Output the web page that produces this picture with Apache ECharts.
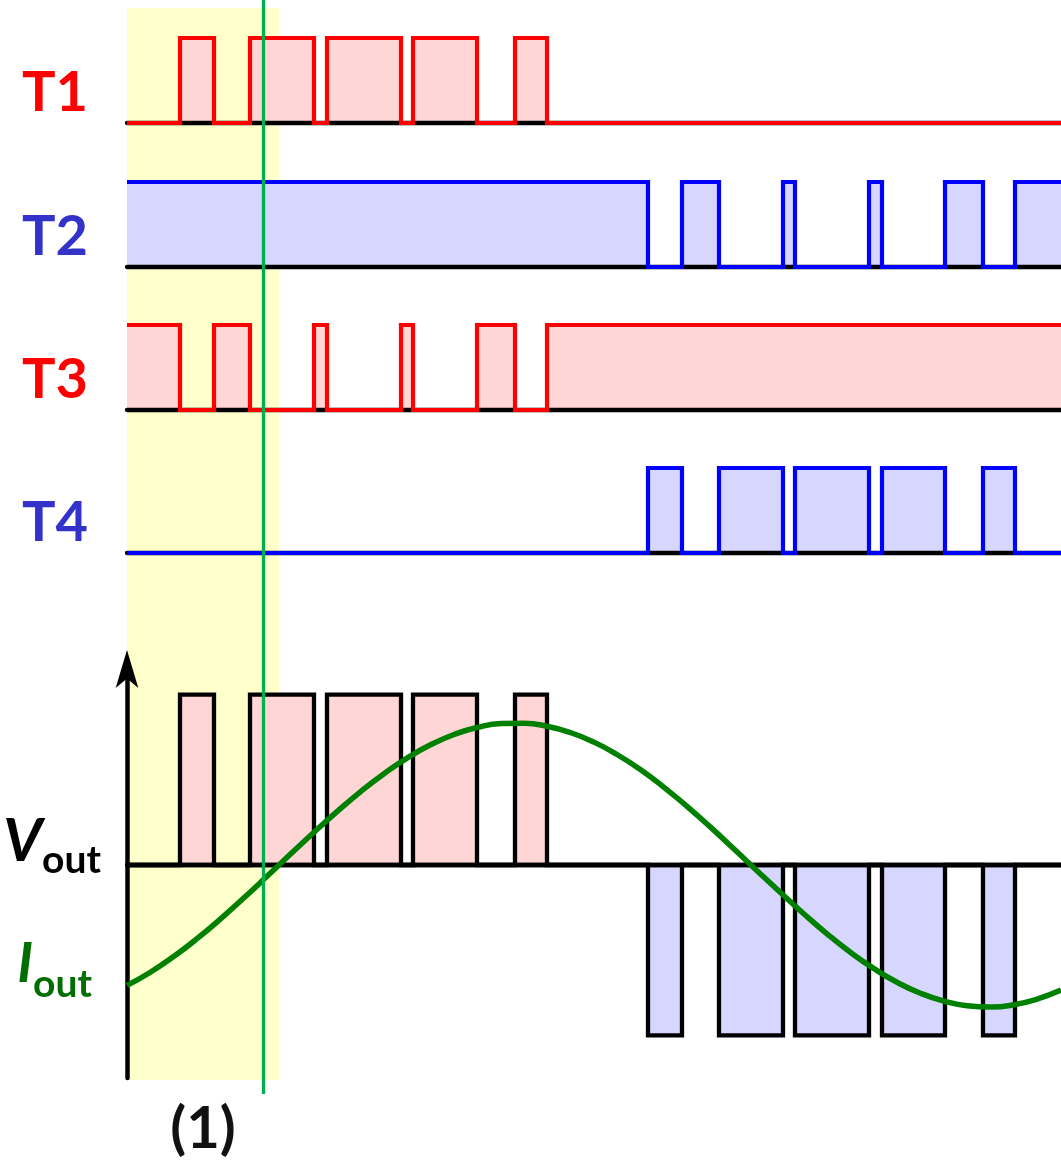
<!DOCTYPE html>
<html>
<head>
<meta charset="utf-8">
<title>PWM switching and output</title>
<script src="https://cdn.jsdelivr.net/npm/echarts@6/dist/echarts.min.js"></script>
<style>
  html, body { margin: 0; padding: 0; background: #fff; }
  #chart { width: 1061px; height: 1162px; }
</style>
</head>
<body>
<div id="chart"></div>
<script>
// common time axis for every row
var tEnd = 934;

// switching instants: leg A (T1 on / T3 off), leg B (T4 on / T2 off)
var legAEdges = [53, 87, 123, 187, 200, 274, 286, 350, 388, 420];
var legBEdges = [521, 555, 592, 656, 668, 742, 755, 818, 856, 888];

// output current
var iTimes = [0, 23, 47, 70, 93, 117, 140, 163, 187, 210, 234, 257, 280, 304, 327, 350, 374, 397, 420, 444,
  467, 490, 514, 537, 560, 584, 607, 630, 654, 677, 700, 724, 747, 770, 794, 817, 840, 864, 887, 910, 934];
var iValues = [-0.848, -0.757, -0.643, -0.519, -0.383, -0.231, -0.08, 0.073, 0.231, 0.376, 0.519, 0.643, 0.753, 0.848, 0.919, 0.968, 0.996, 0.998, 0.977, 0.931,
  0.865, 0.778, 0.669, 0.547, 0.413, 0.263, 0.113, -0.04, -0.198, -0.345, -0.485, -0.618, -0.73, -0.826, -0.905, -0.959, -0.991, -1.0, -0.984, -0.945, -0.881];

// highlighted interval (1) and the cursor inside it
var regionStart = 0, regionEnd = 152, cursorAt = 136;

var rowNames = ["T1", "T2", "T3", "T4"];
var rowLabelColors = ["#ff0000", "#3333cc", "#ff0000", "#3333cc"];
var red = "#ff0000", redFill = "#ffd6d6", blue = "#0000ff", blueFill = "#d6d6ff";

function steps(edges, startOn, level) {
  var on = startOn, out = [[0, on ? level : 0]];
  edges.forEach(function (t) {
    on = !on;
    out.push([t, on ? level : 0]);
  });
  out.push([tEnd, on ? level : 0]);
  return out;
}

var grids = [], xAxes = [], yAxes = [], series = [];
var hide = { show: false };

// fill under the axis line, outline above it
function pulseTrain(axis, data, line, fill, width) {
  series.push({
    type: "line", xAxisIndex: axis, yAxisIndex: axis, step: "end", z: 1,
    data: data, symbol: "none", clip: false, silent: true,
    lineStyle: { width: 0 },
    areaStyle: { color: fill, opacity: 1 }
  });
  series.push({
    type: "line", xAxisIndex: axis, yAxisIndex: axis, step: "end", z: 3,
    data: data, symbol: "none", clip: false, silent: true,
    lineStyle: { color: line, width: width, join: "miter" }
  });
}

function baseAxis(i) {
  return {
    gridIndex: i, type: "value", min: 0, max: tEnd, z: 2,
    axisLine: { onZero: true, lineStyle: { color: "#000", width: 4.3 } },
    axisTick: hide, axisLabel: hide, splitLine: hide
  };
}

var rows = [
  { data: steps(legAEdges, false, 1), line: red, fill: redFill },
  { data: steps(legBEdges, true, 1), line: blue, fill: blueFill },
  { data: steps(legAEdges, true, 1), line: red, fill: redFill },
  { data: steps(legBEdges, false, 1), line: blue, fill: blueFill }
];
var rowTops = [38, 182, 325, 468];

rows.forEach(function (r, i) {
  grids.push({ left: 127, right: 0, top: rowTops[i], height: 85 });
  xAxes.push(baseAxis(i));
  yAxes.push({
    gridIndex: i, type: "value", min: 0, max: 1,
    axisLine: hide, axisTick: hide, axisLabel: hide, splitLine: hide,
    name: "{t|" + rowNames[i] + "}", nameLocation: "middle", nameRotate: 0, nameGap: 39,
    nameTextStyle: {
      rich: {
        t: {
          color: rowLabelColors[i], fontSize: 56, lineHeight: 56, fontWeight: "bold",
          fontFamily: "Lato", padding: [25, 0, 0, 0]
        }
      }
    }
  });
  pulseTrain(i, r.data, r.line, r.fill, 4.2);
});

// Vout / Iout panel
grids.push({ left: 127, right: 0, top: 669, height: 409 });
xAxes.push(baseAxis(4));
yAxes.push({
  gridIndex: 4, type: "value", min: -1.25, max: 1.15, position: "left", z: 2,
  axisLine: {
    onZero: false,
    lineStyle: { color: "#000", width: 4.5 },
    symbol: ["none", "arrow"], symbolSize: [17, 38], symbolOffset: [0, 19]
  },
  axisTick: hide, axisLabel: hide, splitLine: hide,
  name: "{v|V}{s|out}", nameLocation: "middle", nameRotate: 0, nameGap: 26,
  nameTextStyle: {
    padding: [0, 0, 64, 0],
    rich: {
      v: { fontFamily: "Lato", fontStyle: "italic", fontWeight: "bold", fontSize: 60, lineHeight: 60, color: "#000", verticalAlign: "top" },
      s: { fontFamily: "Lato", fontWeight: "bold", fontSize: 39, lineHeight: 39, color: "#000", verticalAlign: "top", padding: [29, 0, 0, 0] }
    }
  }
});
yAxes.push({
  gridIndex: 4, type: "value", min: -1.5, max: 1.38, position: "left",
  axisLine: hide, axisTick: hide, axisLabel: hide, splitLine: hide,
  name: "{i|I}{s|out}", nameLocation: "middle", nameRotate: 0, nameGap: 35,
  nameTextStyle: {
    padding: [180, 0, 0, 0],
    rich: {
      i: { fontFamily: "Lato", fontStyle: "italic", fontWeight: "bold", fontSize: 56, lineHeight: 56, color: "#006e00", verticalAlign: "top" },
      s: { fontFamily: "Lato", fontWeight: "bold", fontSize: 39, lineHeight: 39, color: "#006e00", verticalAlign: "top", padding: [29, 0, 0, 0] }
    }
  }
});
pulseTrain(4, steps(legAEdges, false, 1), "#000", redFill, 4.3);
pulseTrain(4, steps(legBEdges, false, -1), "#000", blueFill, 4.3);
series.push({
  type: "line", xAxisIndex: 4, yAxisIndex: 5, smooth: true, z: 4,
  data: iTimes.map(function (t, k) { return [t, iValues[k]]; }),
  symbol: "none", clip: false, silent: true,
  lineStyle: { color: "#008000", width: 5.5 }
});

// yellow interval (1), behind everything
grids.push({ left: 127, right: 0, top: 8, height: 1072 });
xAxes.push({ gridIndex: 5, type: "value", min: 0, max: tEnd, show: false });
yAxes.push({ gridIndex: 5, type: "value", min: 0, max: 1, show: false });
series.push({
  type: "line", xAxisIndex: 5, yAxisIndex: 6, data: [], z: 0, silent: true,
  markArea: {
    silent: true, z: 0,
    itemStyle: { color: "#ffffcc", opacity: 1 },
    label: {
      show: true, position: "bottom", distance: 20, formatter: "(1)",
      fontFamily: "Lato", fontSize: 58, fontWeight: "bold", color: "#111"
    },
    data: [[{ xAxis: regionStart }, { xAxis: regionEnd }]]
  }
});

// green cursor line, on top
grids.push({ left: 127, right: 0, top: 0, height: 1094 });
xAxes.push({ gridIndex: 6, type: "value", min: 0, max: tEnd, show: false });
yAxes.push({ gridIndex: 6, type: "value", min: 0, max: 1, show: false });
series.push({
  type: "line", xAxisIndex: 6, yAxisIndex: 7, data: [], z: 10, silent: true,
  markLine: {
    silent: true, z: 10, symbol: ["none", "none"], label: hide,
    lineStyle: { color: "#00b050", width: 3.3, type: "solid" },
    data: [{ xAxis: cursorAt }]
  }
});

var chart = echarts.init(document.getElementById("chart"));
chart.setOption({
  animation: false,
  backgroundColor: "#fff",
  textStyle: { fontFamily: "Lato" },
  grid: grids,
  xAxis: xAxes,
  yAxis: yAxes,
  series: series
});
</script>
</body>
</html>
